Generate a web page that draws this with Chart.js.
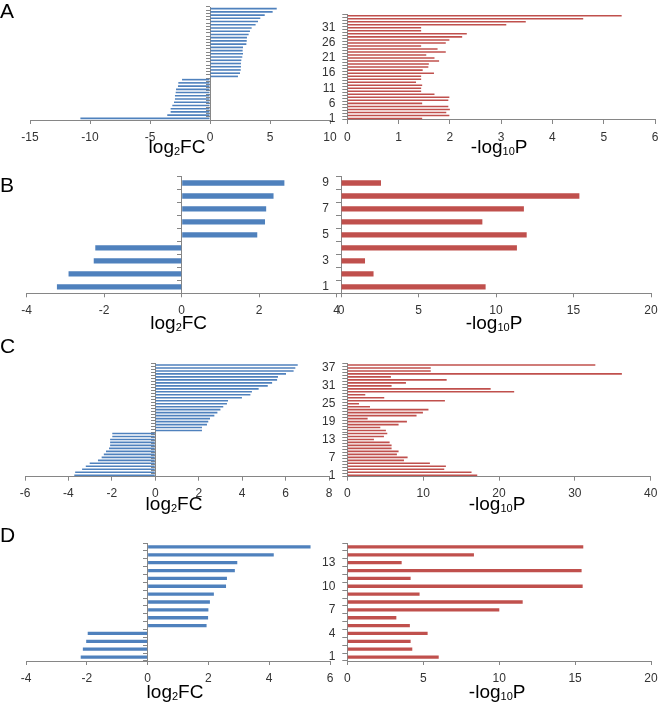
<!DOCTYPE html>
<html>
<head>
<meta charset="utf-8">
<script src="https://cdn.jsdelivr.net/npm/chart.js@4.4.0/dist/chart.umd.min.js"></script>
<style>
html, body { margin: 0; padding: 0; background: #fff; }
#page { position: relative; width: 658px; height: 704px; overflow: hidden; font-family: "Liberation Sans", Arial, sans-serif; }
#page canvas { position: absolute; left: 0; top: 0; }
.letter { position: absolute; left: 0; font-size: 21px; line-height: 21px; color: #000; }
.ttl { position: absolute; width: 200px; text-align: center; font-size: 19px; line-height: 19px; color: #000; white-space: nowrap; }
.ttl sub { font-size: 11px; vertical-align: baseline; position: relative; top: 2px; }
</style>
</head>
<body>
<div id="page"></div>
<script>
// categories (1 = bottom bar)
var catsA = ['1','2','3','4','5','6','7','8','9','10','11','12','13','14','15','16','17','18','19','20',
             '21','22','23','24','25','26','27','28','29','30','31','32','33','34','35'];
var catsB = ['1','2','3','4','5','6','7','8','9'];
var catsC = ['1','2','3','4','5','6','7','8','9','10','11','12','13','14','15','16','17','18','19','20',
             '21','22','23','24','25','26','27','28','29','30','31','32','33','34','35','36','37','38'];
var catsD = ['1','2','3','4','5','6','7','8','9','10','11','12','13','14','15'];

// log2FC values
var fcA = [-10.8, -3.56, -3.28, -3.28, -3.14, -3.0, -2.92, -2.92, -2.86, -2.83, -2.67, -2.64, -2.33,
           2.33, 2.5, 2.56, 2.58, 2.58, 2.61, 2.69, 2.75, 2.72, 2.75, 3.03, 3.06, 3.08, 3.22, 3.33,
           3.47, 3.8, 4.0, 4.19, 4.56, 5.22, 5.56];
var fcB = [-3.22, -2.92, -2.27, -2.23, 1.95, 2.15, 2.18, 2.37, 2.65];
var fcC = [-3.73, -3.69, -3.37, -3.2, -3.02, -2.64, -2.47, -2.37, -2.27, -2.13, -2.08, -2.08, -2.08,
           -1.98, -1.98, 2.15, 2.15, 2.38, 2.44, 2.52, 2.72, 2.86, 3.0, 3.13, 3.3, 3.35, 3.99, 4.38,
           4.45, 4.76, 5.18, 5.38, 5.61, 5.65, 6.02, 6.37, 6.45, 6.56];
var fcD = [-2.2, -2.13, -2.02, -1.97, 1.94, 1.99, 2.0, 2.05, 2.18, 2.58, 2.61, 2.87, 2.95, 4.15, 5.36];

// -log10P values
var pA = [1.46, 1.99, 1.93, 2.0, 1.97, 1.46, 1.97, 1.99, 1.70, 1.44, 1.44, 1.46, 1.34, 1.44, 1.44,
          1.69, 1.47, 1.58, 1.59, 1.79, 1.70, 1.54, 1.92, 1.76, 1.44, 1.92, 1.99, 2.24, 2.33, 1.44,
          1.44, 3.1, 3.48, 4.6, 5.35];
var pB = [9.33, 2.1, 1.55, 11.35, 11.98, 9.12, 11.8, 15.38, 2.58];
var pC = [17.13, 16.38, 12.78, 13.0, 10.89, 7.47, 7.95, 6.54, 6.76, 5.84, 5.84, 5.58, 3.51, 4.83,
          5.27, 5.09, 4.35, 6.76, 7.86, 2.68, 9.13, 9.97, 10.7, 2.99, 1.54, 12.87, 4.87, 2.37, 22.0,
          18.9, 5.84, 7.73, 13.1, 5.75, 36.2, 11.0, 11.0, 32.7];
var pD = [6.02, 4.28, 4.17, 5.29, 4.12, 3.23, 10.01, 11.55, 4.76, 15.5, 4.17, 15.43, 3.58, 8.34, 15.54];

// axis ticks
var fcTicksA = [-15, 10, 5], pTicksA = [0, 6, 1];
var fcTicksB = [-4, 4, 2],   pTicksB = [0, 20, 5];
var fcTicksC = [-6, 8, 2],   pTicksC = [0, 40, 10];
var fcTicksD = [-4, 6, 2],   pTicksD = [0, 20, 5];

var BLUE = '#4F81BD', RED = '#C0504D', AXIS = '#868686', TXT = '#333333';
var CW = 700, CH = 704;
var page = document.getElementById('page');

var panels = [
    {name:'A', cats:catsA, fc:fcA, p:pA, fcT:fcTicksA, pT:pTicksA, step:5, bar:0.5,
     y0:7, y1:120, fx0:30, fx1:330, px0:347.3, px1:655, letterTop:0, titleBase:153},
    {name:'B', cats:catsB, fc:fcB, p:pB, fcT:fcTicksB, pT:pTicksB, step:2, bar:0.41,
     y0:176.5, y1:293.3, fx0:26.7, fx1:336.7, px0:341, px1:651, letterTop:174, titleBase:329},
    {name:'C', cats:catsC, fc:fcC, p:pC, fcT:fcTicksC, pT:pTicksC, step:6, bar:0.55,
     y0:363.5, y1:476.7, fx0:25, fx1:329, px0:347.3, px1:650.7, letterTop:335, titleBase:510},
    {name:'D', cats:catsD, fc:fcD, p:pD, fcT:fcTicksD, pT:pTicksD, step:3, bar:0.42,
     y0:543, y1:661, fx0:26, fx1:330, px0:347.3, px1:651, letterTop:524, titleBase:698}
];

function addDiv(cls, html, left, top) {
    var d = document.createElement('div');
    d.className = cls;
    d.innerHTML = html;
    d.style.left = left + 'px';
    d.style.top = top + 'px';
    page.appendChild(d);
}

function makeChart(pn, left) {
    var cv = document.createElement('canvas');
    cv.width = CW; cv.height = CH;
    page.appendChild(cv);
    var x0 = left ? pn.fx0 : pn.px0;
    var x1 = left ? pn.fx1 : pn.px1;
    var t = left ? pn.fcT : pn.pT;
    var yw = left ? 0 : 40;
    var font = {family: '"Liberation Sans", Arial, sans-serif', size: 12};
    new Chart(cv, {
        type: 'bar',
        data: {
            labels: pn.cats,
            datasets: [{
                data: left ? pn.fc : pn.p,
                backgroundColor: left ? BLUE : RED,
                barPercentage: pn.bar,
                categoryPercentage: 1
            }]
        },
        options: {
            indexAxis: 'y',
            responsive: false,
            animation: false,
            events: [],
            plugins: {legend: {display: false}, tooltip: {enabled: false}},
            layout: {padding: {left: x0 - yw, right: CW - x1, top: pn.y0, bottom: CH - pn.y1 - 28}},
            scales: {
                x: {
                    type: 'linear', min: t[0], max: t[1],
                    ticks: {stepSize: t[2], color: TXT, font: font, padding: 6, maxRotation: 0, autoSkip: false},
                    grid: {drawOnChartArea: false, drawTicks: true, tickLength: 4, color: AXIS},
                    border: {color: AXIS},
                    afterFit: function (s) { s.height = 28; }
                },
                y: {
                    type: 'category',
                    reverse: true,
                    offset: true,
                    position: left ? {x: 0} : 'left',
                    ticks: left ? {display: false} : {
                        color: TXT, font: font, padding: 7, autoSkip: false,
                        callback: function (v, i) { return i % pn.step === 0 ? pn.cats[i] : ''; }
                    },
                    grid: {drawOnChartArea: false, drawTicks: true, tickLength: left ? 4 : 5, color: AXIS, offset: true},
                    border: {color: AXIS},
                    afterFit: function (s) { s.width = yw; }
                }
            }
        }
    });
}

panels.forEach(function (pn) {
    makeChart(pn, true);
    makeChart(pn, false);
    addDiv('letter', pn.name, 0, pn.letterTop);
    addDiv('ttl', 'log<sub>2</sub>FC', (pn.fx0 + pn.fx1) / 2 - 3 - 100, pn.titleBase - 16);
    addDiv('ttl', '-log<sub>10</sub>P', (pn.px0 + pn.px1) / 2 - 2 - 100, pn.titleBase - 16);
});
</script>
</body>
</html>
